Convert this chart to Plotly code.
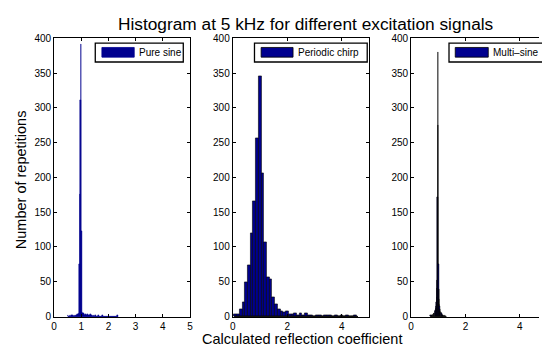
import plotly.graph_objects as go

W, H = 542, 352

# ---------------- data ----------------
titles = ["Pure sine", "Periodic chirp", "Multi\u2013sine"]
y_ticks = [0, 50, 100, 150, 200, 250, 300, 350, 400]
x_ticks_1 = [0, 1, 2, 3, 4, 5]
x_ticks_23 = [0, 2, 4]

# Pure sine: bin centres / counts (bin width 0.0186)
sine_w = 0.0186
sine_x = [0.509, 0.584, 0.640, 0.677, 0.733, 0.770, 0.807, 0.826, 0.844, 0.863,
          0.882, 0.900, 0.919, 0.944, 0.963, 0.981, 1.000, 1.019, 1.037, 1.056,
          1.074, 1.093, 1.111, 1.130, 1.167, 1.204, 1.241, 1.279, 1.316, 1.353,
          1.390, 1.428, 1.465, 1.521, 1.632, 1.781, 2.340]
sine_y = [1, 1, 1, 2, 1, 2, 1, 2, 2, 3,
          2, 3, 4, 75, 175, 311, 392, 122, 6, 4,
          3, 5, 3, 2, 3, 2, 3, 2, 2, 3,
          2, 1, 1, 1, 1, 1, 1]
sine_range = [0.50, 2.36]

# Periodic chirp: bin centres / counts (bin width 0.1)
chirp_w = 0.1
chirp_x = [0.1, 0.2, 0.3, 0.4, 0.5, 0.6, 0.7, 0.8, 0.9, 1.0,
           1.1, 1.2, 1.3, 1.4, 1.5, 1.6, 1.7, 1.8, 1.9, 2.0,
           2.1, 2.2, 2.3, 2.4, 2.5, 2.6, 2.7, 2.8, 2.9, 3.0,
           3.1, 3.2, 3.3, 3.4, 3.5, 3.6, 3.7, 3.8, 3.9, 4.0,
           4.1, 4.2, 4.3, 4.4, 4.5]
chirp_y = [3, 3, 10, 21, 49, 73, 119, 166, 256, 345,
           206, 107, 57, 53, 28, 18, 11, 7, 6, 7,
           3, 3, 5, 2, 4, 2, 5, 1, 1, 0,
           1, 1, 0, 1, 1, 2, 0, 1, 0, 1,
           0, 1, 0, 0, 1]
chirp_range = [0.05, 4.6]

# Multi-sine: bin centres / counts (bin width 0.01)
multi_w = 0.01
multi_x = [0.72, 0.75, 0.78, 0.80, 0.82, 0.84, 0.86, 0.88, 0.90, 0.92,
           0.93, 0.94, 0.95, 0.96, 0.97, 0.98, 0.99, 1.00, 1.01, 1.02,
           1.03, 1.04, 1.05, 1.06, 1.08, 1.10, 1.12, 1.14, 1.16, 1.19,
           1.22, 1.26]
multi_y = [1, 1, 2, 2, 3, 4, 5, 7, 9, 12,
           15, 20, 28, 40, 52, 172, 380, 275, 75, 39,
           25, 18, 14, 10, 8, 6, 4, 3, 2, 1,
           1, 1]
multi_range = [0.70, 1.30]

# ---------------- style ----------------
FILL = "#00008F"
FONT = "Liberation Sans, Arial, Helvetica, sans-serif"

def px(x):
    return x / W

def py(y):
    return 1 - y / H

panel_px = [(51.7, 189.0), (232.3, 370.0), (412.7, 542.0)]
top_px, bot_px = 33.3, 321.0
unit_px = (189.0 - 51.7) / 5.0

fig = go.Figure()

series = [
    (sine_x, sine_y, sine_w, FILL, sine_range),
    (chirp_x, chirp_y, chirp_w, "black", chirp_range),
    (multi_x, multi_y, multi_w, "black", multi_range),
]
for i, (xs, ys, w, edge, rng) in enumerate(series):
    ax = "" if i == 0 else str(i + 1)
    fig.add_trace(go.Scatter(x=rng, y=[0, 0], mode="lines",
                             line=dict(color=edge, width=1),
                             xaxis="x" + ax, yaxis="y" + ax,
                             showlegend=False, hoverinfo="skip"))
    fig.add_trace(go.Bar(x=xs, y=ys, width=w,
                         marker=dict(color=FILL, line=dict(color=edge, width=0.6)),
                         xaxis="x" + ax, yaxis="y" + ax, showlegend=False))

axis_common = dict(showline=True, linecolor="black", linewidth=1,
                   ticks="inside", ticklen=3, tickcolor="black",
                   showgrid=False, zeroline=False,
                   tickfont=dict(family=FONT, size=10, color="black"))

layout = dict(width=W, height=H, margin=dict(l=0, r=0, t=0, b=0),
              paper_bgcolor="white", plot_bgcolor="white",
              showlegend=False, bargap=0)

for i in range(3):
    k = "" if i == 0 else str(i + 1)
    x0, x1 = panel_px[i]
    if i < 2:
        xr = [0, 5]
    else:
        xr = [0, (x1 - x0) / unit_px]
    xt = x_ticks_1 if i == 0 else x_ticks_23
    layout["xaxis" + k] = dict(axis_common, domain=[px(x0), px(x1)], range=xr,
                               tickvals=xt, ticktext=[str(t) for t in xt],
                               mirror="ticks", anchor="y" + k)
    layout["yaxis" + k] = dict(axis_common, domain=[py(bot_px), py(top_px)],
                               range=[-0.8, 400], tickvals=y_ticks,
                               ticktext=[str(t) for t in y_ticks],
                               mirror="ticks" if i < 2 else False,
                               anchor="x" + k)

fig.update_layout(**layout)

# legends (drawn manually: box, patch, label)
legends = [
    (93.3, 182.3, 100.0, 132.7, 135.5, FILL),
    (254.3, 368.3, 261.0, 293.3, 296.7, "black"),
    (451.0, 560.0, 457.3, 490.7, 493.5, "black"),
]
shapes = []
annotations = []
for i, (bx0, bx1, sx0, sx1, tx, edge) in enumerate(legends):
    shapes.append(dict(type="rect", xref="paper", yref="paper",
                       x0=px(bx0), x1=px(bx1), y0=py(57.8), y1=py(38.3),
                       fillcolor="white", line=dict(color="black", width=1.3),
                       layer="above"))
    shapes.append(dict(type="rect", xref="paper", yref="paper",
                       x0=px(sx0), x1=px(sx1), y0=py(52.8), y1=py(42.8),
                       fillcolor=FILL, line=dict(color=edge, width=0.8),
                       layer="above"))
    annotations.append(dict(text=titles[i], xref="paper", yref="paper",
                            x=px(tx), y=py(47.8), xanchor="left", yanchor="middle",
                            showarrow=False,
                            font=dict(family=FONT, size=10, color="black")))

annotations.append(dict(text="Histogram at 5 kHz for different excitation signals",
                        xref="paper", yref="paper", x=px(306), y=py(18.5),
                        xanchor="center", yanchor="middle", showarrow=False,
                        font=dict(family=FONT, size=17.3, color="black")))
annotations.append(dict(text="Calculated reflection coefficient",
                        xref="paper", yref="paper", x=px(302), y=py(343.5),
                        xanchor="center", yanchor="middle", showarrow=False,
                        font=dict(family=FONT, size=14.5, color="black")))
annotations.append(dict(text="Number of repetitions", textangle=-90,
                        xref="paper", yref="paper", x=px(19), y=py(179),
                        xanchor="center", yanchor="middle", showarrow=False,
                        font=dict(family=FONT, size=14.5, color="black")))

fig.update_layout(shapes=shapes, annotations=annotations)

fig.write_html("out.html",
               config={"displayModeBar": False},
               post_script="document.body.style.margin='0';"
                           "document.body.style.overflow='hidden';")
